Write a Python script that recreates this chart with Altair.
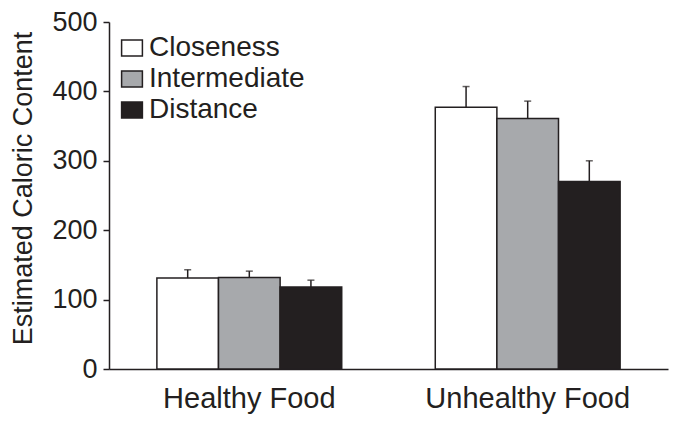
import altair as alt
import pandas as pd

groups = ["Healthy Food", "Unhealthy Food"]
conditions = ["Closeness", "Intermediate", "Distance"]
healthy_means = [131, 132, 118]
unhealthy_means = [377, 361, 270]
healthy_err = [12, 9, 10]
unhealthy_err = [30, 25, 30]
colors = ["#ffffff", "#a7a9ac", "#231f20"]
y_ticks = [0, 100, 200, 300, 400, 500]

rows = []
for g, means, errs in zip(groups, [healthy_means, unhealthy_means], [healthy_err, unhealthy_err]):
    for c, m, e in zip(conditions, means, errs):
        rows.append({"group": g, "condition": c, "mean": m, "upper": m + e})
df = pd.DataFrame(rows)

FONT = "Liberation Sans"
INK = "#231f20"

x = alt.X(
    "group:N", sort=groups, title=None,
    scale=alt.Scale(paddingInner=0.336, paddingOuter=0.172),
    axis=alt.Axis(labelAngle=0, ticks=False, labelFontSize=29, labelPadding=15,
                  labelLimit=0, domainColor=INK, domainWidth=1.5,
                  labelColor=INK, labelFont=FONT),
)
xo = alt.XOffset("condition:N", sort=conditions, scale=alt.Scale(paddingInner=0, paddingOuter=0))

y_axis = alt.Axis(
    values=y_ticks, grid=False, tickSize=6, tickWidth=1.5, tickColor=INK,
    domainColor=INK, domainWidth=1.5, labelFontSize=27, labelPadding=6,
    labelColor=INK, labelFont=FONT,
    title="Estimated Caloric Content", titleFontSize=27, titleFont=FONT,
    titleFontWeight="normal", titleColor=INK, titleAngle=270,
    titleAlign="center", titleBaseline="alphabetic", titleX=-78, titleY=166,
)
y_scale = alt.Scale(domain=[0, 500], nice=False)

bars = alt.Chart(df).mark_bar(stroke=INK, strokeWidth=1.5).encode(
    x=x,
    xOffset=xo,
    y=alt.Y("mean:Q", scale=y_scale, axis=y_axis),
    color=alt.Color(
        "condition:N", sort=conditions,
        scale=alt.Scale(domain=conditions, range=colors),
        legend=alt.Legend(
            title=None, orient="none", legendX=9, legendY=12, padding=0,
            labelFontSize=28, labelFont=FONT, labelColor=INK, labelOffset=3,
            symbolType="M-1.3,-1H1.3V1H-1.3Z", symbolSize=256,
            symbolStrokeColor=INK, symbolStrokeWidth=1.5, rowPadding=3,
            symbolOpacity=1,
        ),
    ),
)

rules = alt.Chart(df).mark_rule(color=INK, strokeWidth=1.5).encode(
    x=x, xOffset=xo,
    y=alt.Y("mean:Q", scale=y_scale, axis=y_axis),
    y2="upper:Q",
)

caps = alt.Chart(df).mark_tick(color=INK, size=7, thickness=1.5).encode(
    x=x, xOffset=xo,
    y=alt.Y("upper:Q", scale=y_scale, axis=y_axis),
)

chart = alt.layer(bars, rules, caps).properties(
    width=559, height=347,
    autosize=alt.AutoSizeParams(type="none"),
    padding={"left": 101, "top": 14, "right": 1, "bottom": 56},
).configure_view(stroke=None)

chart.save("out.html", embed_options={"renderer": "svg", "actions": False})
